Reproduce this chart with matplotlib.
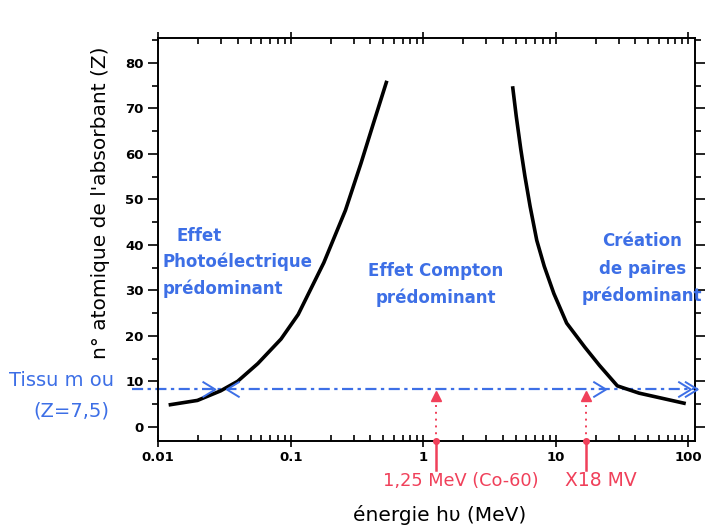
import numpy as np
import matplotlib
matplotlib.use("Agg")
import matplotlib.pyplot as plt
from matplotlib.ticker import FixedLocator, LogLocator, NullFormatter, MultipleLocator

# Photoelectric / Compton boundary
pe_energy = [0.012, 0.0198, 0.0296, 0.0398, 0.0565, 0.0846, 0.114, 0.178, 0.259, 0.339, 0.421, 0.532]
pe_z = [4.8, 5.8, 7.9, 10.0, 13.9, 19.3, 24.7, 36.1, 47.6, 57.9, 66.7, 76.1]
# Compton / pair production boundary
pp_energy = [4.73, 5.04, 5.45, 5.86, 6.41, 7.2, 8.20, 9.69, 12.1, 16.6, 21.4, 29.2, 42.6, 95.9]
pp_z = [74.9, 68.3, 61.1, 55.1, 48.5, 41.0, 35.3, 29.3, 22.8, 17.5, 13.5, 9.0, 7.4, 5.1]

tissue_z = 8.2
marker_energies = [1.25, 17.0]
marker_labels = ["1,25 MeV (Co-60)", "X18 MV"]

x_ticks = [0.01, 0.1, 1, 10, 100]
x_ticklabels = ["0.01", "0.1", "1", "10", "100"]
y_ticks = [0, 10, 20, 30, 40, 50, 60, 70, 80]

blue = "#3d6fe6"
red = "#f0405a"

fig = plt.figure(figsize=(7.06, 5.28), dpi=100)
ax = fig.add_axes([0.224, 0.165, 0.760, 0.763])
ax.set_xscale("log")
ax.set_xlim(0.01, 112)
ax.set_ylim(-3.1, 85.5)

ax.plot(pe_energy, pe_z, color="black", lw=2.6, solid_capstyle="butt", zorder=3)
ax.plot(pp_energy, pp_z, color="black", lw=2.6, solid_capstyle="butt", zorder=3)

# tissue line (extends beyond axes on the left)
ax.plot([0.0063, 118], [tissue_z, tissue_z], color=blue, lw=1.6,
        ls=(0, (5, 2, 1.5, 2)), clip_on=False, zorder=2)

def chevron(xe, direction, size=0.09, h=1.6):
    # direction +1 => ">", -1 => "<"
    x0 = xe * 10 ** (-direction * size)
    ax.plot([x0, xe, x0], [tissue_z + h, tissue_z, tissue_z - h], color=blue,
            lw=1.4, clip_on=False, zorder=4)

chevron(0.027, 1)
chevron(0.033, -1)
chevron(24.0, 1)
chevron(105.0, 1)
chevron(118.0, 1)

# red markers
for e in marker_energies:
    ax.plot([e, e], [-3.1, tissue_z - 1.6], color=red, lw=1.4, ls=(0, (1, 2.5)), zorder=2)
    ax.plot([e], [tissue_z - 1.4], marker="^", color=red, ms=7, zorder=4)
    ax.plot([e, e], [-3.1, -9.5], color=red, lw=1.8, clip_on=False, zorder=4)
    ax.plot([e], [-3.1], marker="o", color=red, ms=4, clip_on=False, zorder=5)

ax.text(0.50, -11.9, marker_labels[0], color=red, fontsize=12.8, ha="left", va="center",
        clip_on=False)
ax.text(11.7, -11.9, marker_labels[1], color=red, fontsize=13.5, ha="left", va="center",
        clip_on=False)

# region labels
tfont = dict(color=blue, fontsize=12, fontweight="bold")
ax.text(0.0205, 42.0, "Effet", ha="center", va="center", **tfont)
ax.text(0.0108, 36.3, "Photoélectrique", ha="left", va="center", **tfont)
ax.text(0.0108, 30.3, "prédominant", ha="left", va="center", **tfont)
ax.text(1.25, 34.3, "Effet Compton", ha="center", va="center", **tfont)
ax.text(1.25, 28.3, "prédominant", ha="center", va="center", **tfont)
ax.text(45, 40.8, "Création", ha="center", va="center", **tfont)
ax.text(45, 34.8, "de paires", ha="center", va="center", **tfont)
ax.text(45, 28.8, "prédominant", ha="center", va="center", **tfont)

# tissue text
ax.text(0.00075, 10.1, "Tissu m ou", color=blue, fontsize=14, ha="left", va="center",
        clip_on=False)
ax.text(0.00115, 3.5, "(Z=7,5)", color=blue, fontsize=14, ha="left", va="center",
        clip_on=False)

# ticks
ax.xaxis.set_major_locator(FixedLocator(x_ticks))
ax.set_xticklabels(x_ticklabels, fontsize=9.5, fontweight="bold")
ax.xaxis.set_minor_locator(LogLocator(base=10, subs=np.arange(2, 10)))
ax.xaxis.set_minor_formatter(NullFormatter())
ax.set_yticks(y_ticks)
ax.set_yticklabels([str(v) for v in y_ticks], fontsize=9.5, fontweight="bold")
ax.yaxis.set_minor_locator(MultipleLocator(5))
ax.tick_params(axis="x", which="major", direction="inout", length=8, width=1.2, top=True)
ax.tick_params(axis="x", which="minor", direction="in", length=4, width=1.2, top=True)
ax.tick_params(axis="y", which="major", direction="out", length=7, width=1.2, right=True)
ax.tick_params(axis="y", which="minor", direction="out", length=4, width=1.2, right=True)
for s in ax.spines.values():
    s.set_linewidth(1.4)

ax.set_xlabel("énergie hυ (MeV)", fontsize=14.5, va="center")
ax.xaxis.set_label_coords(0.525, -0.185)
ax.set_ylabel("n° atomique de l'absorbant (Z)", fontsize=14.5, va="center")
ax.yaxis.set_label_coords(-0.108, 0.59)

fig.savefig("out.png", dpi=100)
